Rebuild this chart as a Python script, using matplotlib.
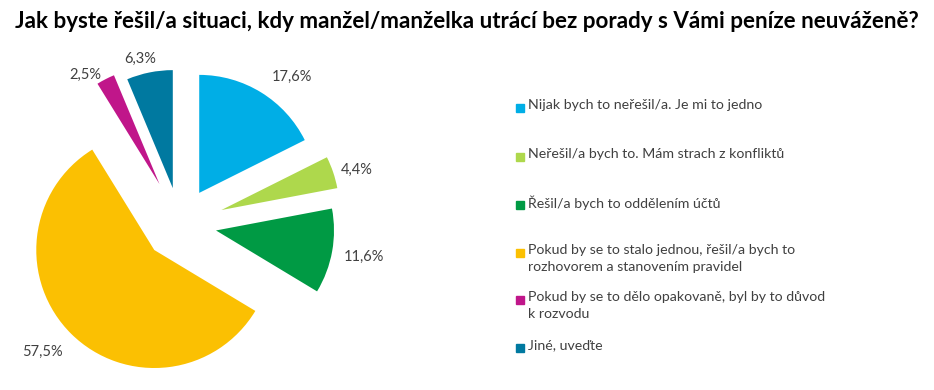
import numpy as np
import matplotlib
matplotlib.use("Agg")
import matplotlib.pyplot as plt
from matplotlib.patches import Rectangle

plt.rcParams['font.family'] = ['Lato', 'DejaVu Sans']

title = "Jak byste řešil/a situaci, kdy manžel/manželka utrácí bez porady s Vámi peníze neuváženě?"
categories = [
    "Nijak bych to neřešil/a. Je mi to jedno",
    "Neřešil/a bych to. Mám strach z konfliktů",
    "Řešil/a bych to oddělením účtů",
    "Pokud by se to stalo jednou, řešil/a bych to\nrozhovorem a stanovením pravidel",
    "Pokud by se to dělo opakovaně, byl by to důvod\nk rozvodu",
    "Jiné, uveďte",
]
values = [17.6, 4.4, 11.6, 57.5, 2.5, 6.3]
colors = ['#00AEE6', '#AED84C', '#009A44', '#FBC002', '#C0168A', '#0079A0']
explode = [0.31, 0.37, 0.31, 0.31, 0.38, 0.31]
label_dist = [1.26, 1.2, 1.27, 1.28, 1.12, 1.13]
label_turn = [-7, -2, 0, -3, 7, 3]  # degrees, nudges label around the slice

W, H = 934, 390
R = 118.0          # pie radius in px
cx, cy = 180, 224  # pie centre in px (from top-left)

fig = plt.figure(figsize=(W / 100, H / 100), dpi=100)
ax = fig.add_axes([0, 0, 1, 1])

wedges, _ = ax.pie(values, colors=colors, explode=explode, startangle=90,
                   counterclock=False, radius=1, wedgeprops=dict(linewidth=0))
ax.set_aspect('auto')
ax.set_xlim(-cx / R, (W - cx) / R)
ax.set_ylim(-(H - cy) / R, cy / R)
ax.axis('off')

for w, v, d, t in zip(wedges, values, label_dist, label_turn):
    a = np.deg2rad((w.theta1 + w.theta2) / 2 + t)
    x0, y0 = w.center
    ax.text(x0 + d * np.cos(a), y0 + d * np.sin(a), f"{v:.1f}%".replace('.', ','),
            ha='center', va='center', fontsize=10.5, color='#404040')

fig.text(0.5, 1 - 22 / H, title, ha='center', va='center',
         fontsize=16.1, fontweight='bold', color='black')

# legend
legend_y = [108, 157, 205, 253, 300, 348]
for lab, c, y in zip(categories, colors, legend_y):
    fig.patches.append(Rectangle((516 / W, 1 - (y + 4) / H), 8 / W, 8 / H,
                                 transform=fig.transFigure, color=c))
    fig.text(528 / W, 1 - (y - 9) / H, lab, ha='left', va='top',
             fontsize=10.2, color='#404040', linespacing=1.5)

fig.savefig("out.png", dpi=100)
